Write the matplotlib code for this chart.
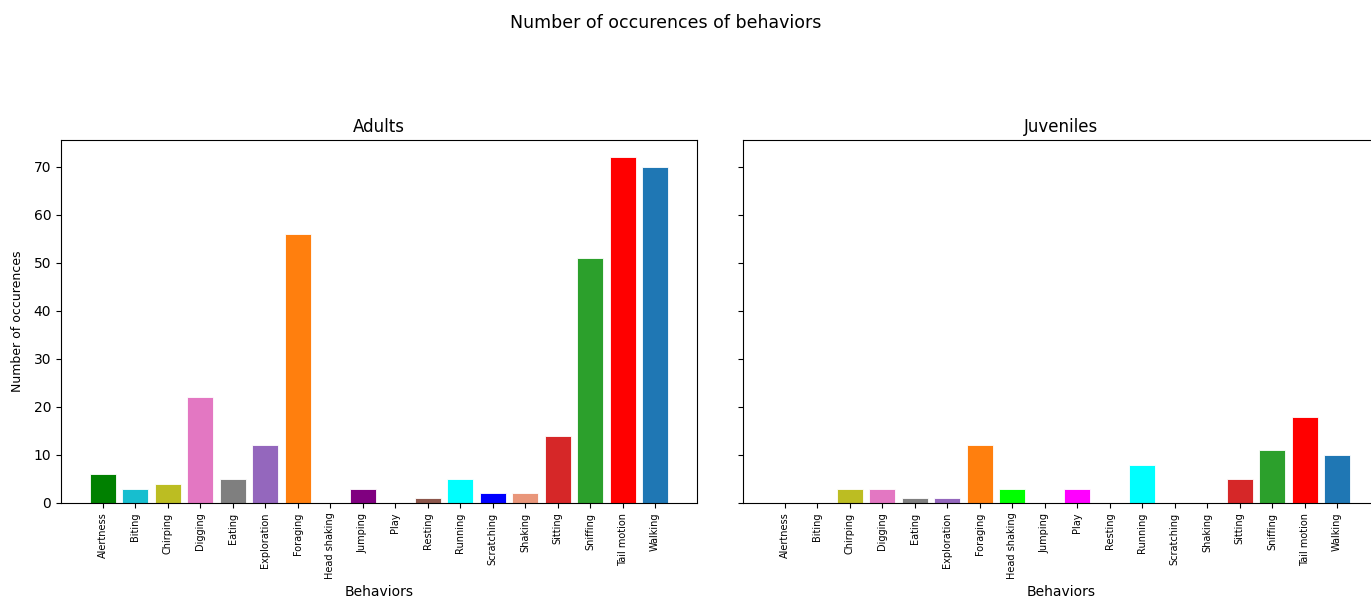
import matplotlib
matplotlib.use('Agg')
from matplotlib import pyplot as plt

behaviors = ['Alertness', 'Biting', 'Chirping', 'Digging', 'Eating', 'Exploration',
             'Foraging', 'Head shaking', 'Jumping', 'Play', 'Resting', 'Running',
             'Scratching', 'Shaking', 'Sitting', 'Sniffing', 'Tail motion', 'Walking']
adults = [6, 3, 4, 22, 5, 12, 56, 0, 3, 0, 1, 5, 2, 2, 14, 51, 72, 70]
juveniles = [0, 0, 3, 3, 1, 1, 12, 3, 0, 3, 0, 8, 0, 0, 5, 11, 18, 10]
colors = ['green', 'tab:cyan', 'tab:olive', 'tab:pink', 'tab:gray', 'tab:purple',
          'tab:orange', 'lime', 'purple', 'magenta', 'tab:brown', 'cyan',
          'blue', 'darksalmon', 'tab:red', 'tab:green', 'red', 'tab:blue']

fig = plt.figure(figsize=(13.71, 6.01), dpi=100)
W, H = 1371, 601
ax1 = fig.add_axes([61/W, 98/H, 636/W, 363/H])
ax2 = fig.add_axes([743/W, 98/H, 636/W, 363/H], sharey=ax1)

for ax, vals, title in [(ax1, adults, 'Adults'), (ax2, juveniles, 'Juveniles')]:
    ax.bar(behaviors, vals, color=colors, edgecolor='white', linewidth=0.6)
    ax.set_title(title)
    ax.set_xlabel('Behaviors')
    ax.tick_params(axis='x', labelrotation=90, labelsize=7)

ax1.set_ylabel('Number of occurences', fontsize=9)
ax1.yaxis.set_label_coords(-37/636, 0.5)
plt.setp(ax2.get_yticklabels(), visible=False)

fig.suptitle('Number of occurences of behaviors', x=666/W, y=1 - 23/H, va='center', fontsize=12.5)

fig.savefig('out.png', dpi=100)
